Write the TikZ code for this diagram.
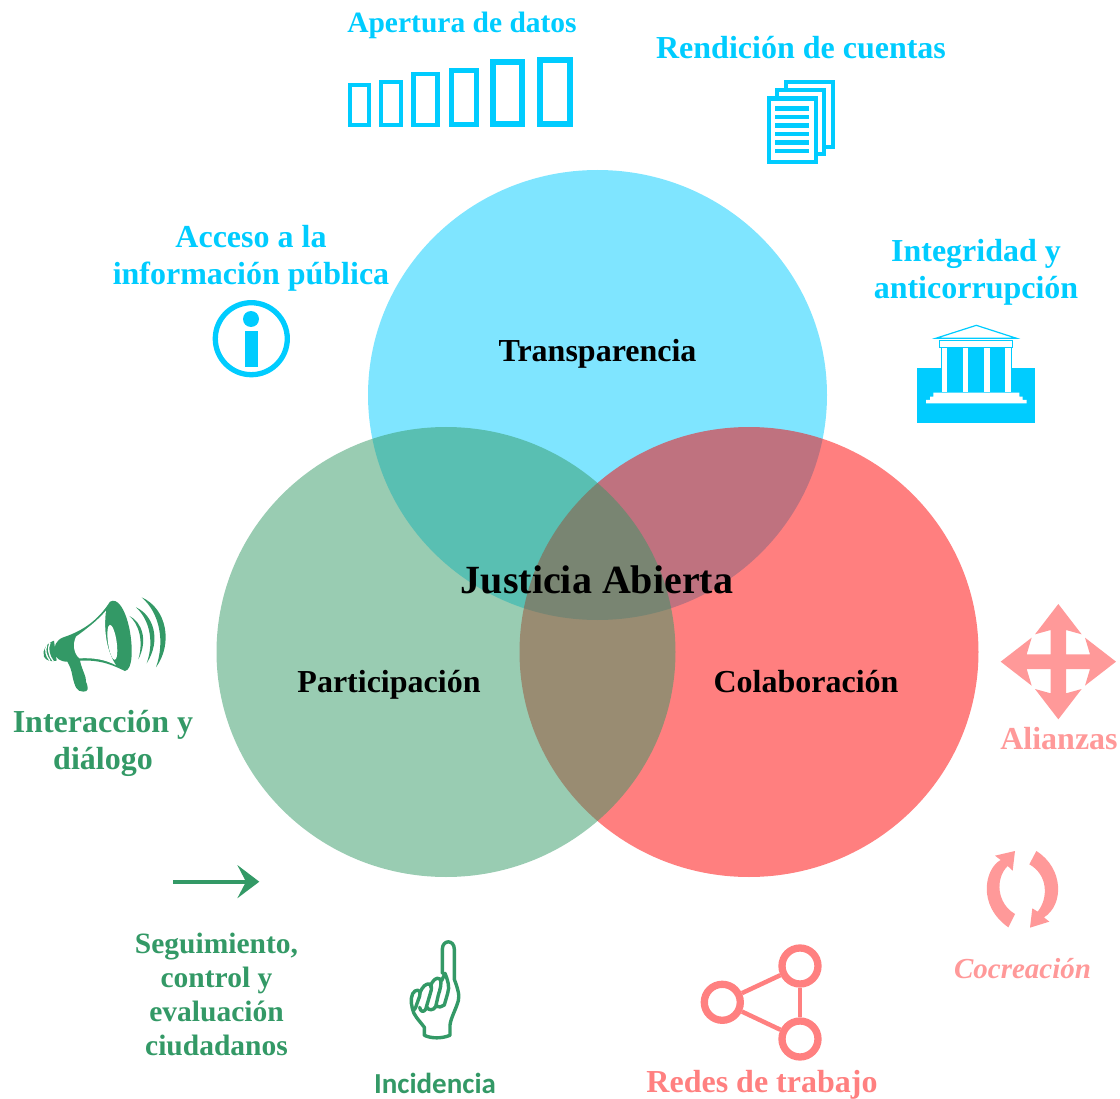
\documentclass[tikz,border=0pt]{standalone}
\usepackage{fontspec}
\setmainfont{Liberation Serif}
\newfontfamily\carlitofam{Carlito}
\definecolor{cy}{HTML}{00CCFF}
\definecolor{gr}{HTML}{339966}
\definecolor{rd}{HTML}{FF0000}
\definecolor{pk}{HTML}{FF9999}
\definecolor{sal}{HTML}{FF8080}
\tikzset{
  lbl/.style={anchor=base,inner sep=0pt,font=\bfseries\fontsize{32}{32}\selectfont},
  sm/.style={anchor=base,inner sep=0pt,font=\bfseries\fontsize{29.5}{30}\selectfont},
  tit/.style={anchor=base,inner sep=0pt,text=black,font=\bfseries\fontsize{32}{32}\selectfont},
  zoomed/.style={x=0.33333pt,y=-0.33333pt},
  bar/.style={draw=cy,fill=white},
  sheet/.style={draw=cy,fill=white,line width=4.4pt},
  docline/.style={draw=cy,line width=4.4pt},
  finger/.style={draw=gr,line width=3.4pt,line cap=round,line join=round},
  sharering/.style={circle,draw=sal,fill=white,line width=7.3pt,minimum size=36pt,inner sep=0pt}
}
\begin{document}
\begin{tikzpicture}[x=1pt,y=-1pt]
\useasboundingbox (0,0) rectangle (1120,1099);
% Venn
\fill[cy,fill opacity=.5] (597.5,395) ellipse[x radius=229.5,y radius=225];
\fill[rd,fill opacity=.5] (749,652) ellipse[x radius=229.5,y radius=225];
\fill[gr,fill opacity=.5] (446,652) ellipse[x radius=229.5,y radius=225];
\node[tit] (t) at (597.5,362) {Transparencia};
\node[tit] (p) at (389,692) {Participación};
\node[tit] (c) at (806,692) {Colaboración};
\node[tit,font=\bfseries\fontsize{40}{40}\selectfont] (j) at (597,593) {Justicia Abierta};
% Cyan labels
\node[sm,text=cy] (l1) at (462,32.5) {Apertura de datos};
\node[lbl,text=cy] (l2) at (801,59) {Rendición de cuentas};
\node[lbl,text=cy] (l3a) at (251,248) {Acceso a la};
\node[lbl,text=cy] (l3b) at (251,285) {información pública};
\node[lbl,text=cy] (l4a) at (976,262) {Integridad y};
\node[lbl,text=cy] (l4b) at (976,299) {anticorrupción};
% Green labels
\node[lbl,text=gr] (l5a) at (103,732) {Interacción y};
\node[lbl,text=gr] (l5b) at (103,769) {diálogo};
\node[sm,text=gr] (l6a) at (216.5,953) {Seguimiento,};
\node[sm,text=gr] (l6b) at (216.5,987) {control y};
\node[sm,text=gr] (l6c) at (216.5,1021) {evaluación};
\node[sm,text=gr] (l6d) at (216.5,1055) {ciudadanos};
\node[anchor=base,inner sep=0pt,text=gr,font=\carlitofam\bfseries\fontsize{29}{29}\selectfont] (l7) at (435,1093) {Incidencia};
% Red labels
\node[lbl,text=sal] (l8) at (762,1092) {Redes de trabajo};
\node[lbl,text=pk] (l9) at (1059,749) {Alianzas};
\node[anchor=base,inner sep=0pt,text=pk,font=\bfseries\itshape\fontsize{29}{29}\selectfont] (l10) at (1022.5,978) {Cocreación};
% Bars
\draw[bar,line width=4pt] (350,85) rectangle (368.5,125);
\draw[bar,line width=4pt] (381,82) rectangle (401,125);
\draw[bar,line width=4.5pt] (413.6,74.2) rectangle (437.3,124.8);
\draw[bar,line width=5pt] (451.5,70.5) rectangle (476.5,124.5);
\draw[bar,line width=6pt] (493,62) rectangle (522,124);
\draw[bar,line width=6pt] (540,60) rectangle (570,124);
% Documents
\draw[sheet] (786,82.2) rectangle (832.8,146.8);
\draw[sheet] (777.2,90.2) rectangle (823.9,154.3);
\draw[sheet] (769.2,98.7) rectangle (815.8,161.8);
\foreach \yy in {108.5,117,125.5,134,142.5,151}
  \draw[docline] (775,\yy) -- (809,\yy);
% Temple
\fill[cy] (917,368) rectangle (1035,423);
\fill[cy] (940.7,348) rectangle (1012.3,395);
\begin{scope}[shift={(900,310)},zoomed]
  \fill[white] (78,280) -- (78,270) -- (90,270) -- (90,260) -- (100,260) -- (100,248) -- (358,248) -- (358,260) -- (368,260) -- (368,270) -- (380,270) -- (380,280) -- cycle;
  \foreach \cx in {126,189,253,316}
    \fill[white] (\cx,113) rectangle (\cx+16,245);
  \draw[cy,line width=1.3pt,fill=white] (119.5,92.5) rectangle (338.5,113);
  \draw[cy,line width=1.2pt,line join=miter] (107,85) -- (229,46) -- (350,85) -- cycle;
\end{scope}
% Info
\draw[cy,line width=5.3pt] (251.3,338.7) circle[radius=36];
\fill[cy] (251,319) circle[radius=8];
\fill[cy] (244.7,331.3) rectangle (257.7,367.3);
% Megaphone
\begin{scope}[shift={(30,590)},zoomed]
  \fill[gr] (240,35) .. controls (262,22) and (285,55) .. (298,115)
     .. controls (310,175) and (308,240) .. (285,243)
     .. controls (260,232) and (220,208) .. (150,212)
     .. controls (156,240) and (170,262) .. (168,275)
     .. controls (176,295) and (176,305) .. (160,305)
     .. controls (140,305) and (135,290) .. (128,262)
     .. controls (125,240) and (118,225) .. (112,215)
     .. controls (90,215) and (78,205) .. (74,190)
     .. controls (70,170) and (78,150) .. (100,142)
     .. controls (160,122) and (205,90) .. (240,35) -- cycle;
  \fill[white] (228,62) .. controls (200,95) and (165,120) .. (138,140)
     .. controls (128,160) and (130,190) .. (148,205)
     .. controls (190,203) and (225,208) .. (258,226)
     .. controls (225,175) and (222,110) .. (228,62) -- cycle;
  \fill[white] (247,157) ellipse[x radius=13,y radius=53,rotate=8];
  % coil
  \fill[gr] (72,152) .. controls (50,160) and (35,180) .. (42,200)
     .. controls (48,212) and (62,216) .. (80,212) -- cycle;
  \draw[white,line width=1.3pt] (50,166) .. controls (44,180) and (48,198) .. (60,212);
  \draw[white,line width=1.3pt] (60,158) .. controls (52,175) and (56,198) .. (70,214);
  % waves
  \fill[gr] (298,78) .. controls (335,95) and (355,150) .. (325,208) .. controls (342,150) and (325,100) .. (298,78) -- cycle;
  \fill[gr] (318,52) .. controls (370,75) and (395,150) .. (350,220) .. controls (375,150) and (355,85) .. (318,52) -- cycle;
  \fill[gr] (335,22) .. controls (410,55) and (430,160) .. (378,232) .. controls (405,155) and (390,70) .. (335,22) -- cycle;
\end{scope}
% Four-way arrow
\begin{scope}[shift={(990,595)},zoomed]
  \fill[pk,shift={(205,200)}] (0,-173) -- (70,-82) -- (23,-95) -- (23,-22) -- (95,-22) -- (80,-72) -- (173,0) -- (80,72) -- (95,22) -- (23,22) -- (23,95) -- (70,82) -- (0,173) -- (-70,82) -- (-23,95) -- (-23,22) -- (-95,22) -- (-80,72) -- (-173,0) -- (-80,-72) -- (-95,-22) -- (-23,-22) -- (-23,-95) -- (-70,-82) -- cycle;
\end{scope}
% Cycle arrows
\begin{scope}[shift={(970,840)},zoomed]
  \fill[pk] (135,33) -- (75,47) -- (92,60) .. controls (45,85) and (20,195) .. (115,262) -- (135,222)
     .. controls (80,190) and (75,115) .. (113,78) -- (128,92) -- cycle;
  \fill[pk] (180,263) -- (238,245) -- (222,232) .. controls (282,195) and (282,85) .. (199,33) -- (178,73)
     .. controls (235,105) and (235,175) .. (203,215) -- (187,205) -- cycle;
\end{scope}
% Finger
\begin{scope}[shift={(395,930)},zoomed]
  \draw[finger] (142,130) -- (142,58) .. controls (142,28) and (178,28) .. (178,58) -- (178,148)
    .. controls (186,170) and (195,195) .. (190,212) .. controls (182,240) and (168,262) .. (165,285) -- (165,316)
    .. controls (140,326) and (110,326) .. (88,316) -- (88,292) .. controls (70,268) and (55,255) .. (52,235);
  \draw[finger] (52,235) .. controls (46,215) and (48,190) .. (60,183) .. controls (72,176) and (78,186) .. (74,198) -- (62,232) .. controls (58,242) and (54,240) .. (52,235);
  \draw[finger] (74,190) .. controls (82,170) and (92,160) .. (104,162) .. controls (112,166) and (110,178) .. (106,190) -- (92,238) .. controls (85,248) and (76,245) .. (74,232) ;
  \draw[finger] (106,170) .. controls (112,150) and (125,140) .. (135,147) .. controls (142,155) and (135,180) .. (130,195) -- (122,230) .. controls (115,242) and (100,242) .. (96,232);
  \draw[finger] (140,152) -- (150,130) .. controls (158,150) and (165,170) .. (158,190) -- (148,225) .. controls (142,232) and (130,232) .. (126,228);
\end{scope}
% Share
\node[sharering] (s1) at (800,966) {};
\node[sharering] (s2) at (722.3,1002.3) {};
\node[sharering] (s3) at (800,1039) {};
\draw[sal,line width=4.5pt] (s2) -- (s1);
\draw[sal,line width=4.5pt] (s2) -- (s3);
\draw[sal,line width=4.5pt] (s1) -- (s3);
% Arrow
\coordinate (a1) at (173,881.7);
\coordinate (a2) at (248,881.7);
\draw[gr,line width=4pt] (a1) -- (a2);
\fill[gr] (259.3,881.7) -- (237.3,865) -- (246,881.7) -- (237.3,898.3) -- cycle;
\end{tikzpicture}
\end{document}
